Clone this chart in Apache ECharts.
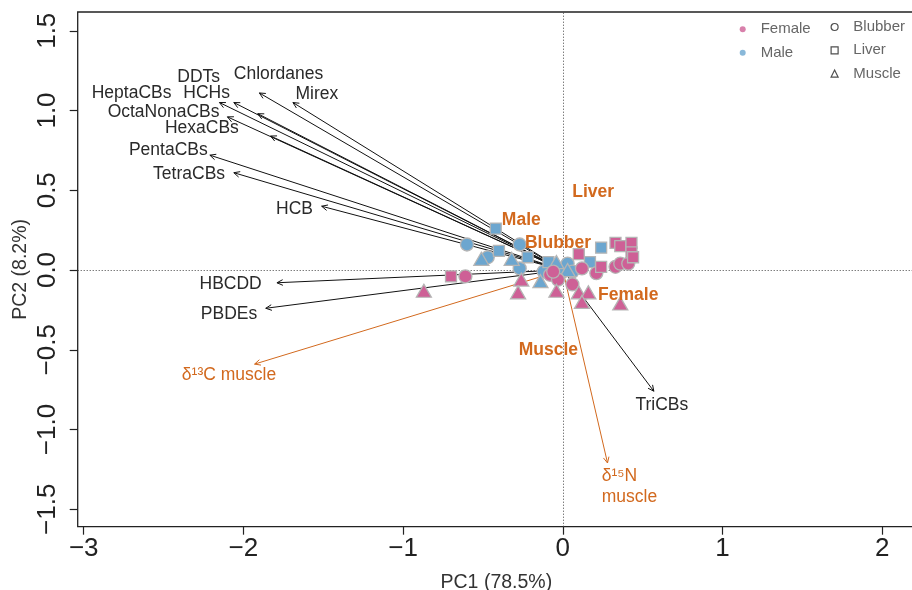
<!DOCTYPE html>
<html>
<head>
<meta charset="utf-8">
<script src="https://cdn.jsdelivr.net/npm/echarts@6/dist/echarts.min.js"></script>
<style>
  html, body { margin: 0; padding: 0; background: #fff; }
  #chart { width: 912px; height: 590px; }
</style>
</head>
<body>
<div id="chart"></div>
<script>
// sample scores [PC1, PC2]
const femaleBlubber = [[-0.61, -0.04], [-0.08, -0.03], [-0.03, -0.06], [0.06, -0.09], [0.12, 0.01],
  [0.21, -0.02], [0.33, 0.02], [0.36, 0.04], [0.41, 0.04], [-0.06, -0.01]];
const femaleLiver = [[-0.70, -0.04], [0.10, 0.10], [0.24, 0.02], [0.33, 0.17], [0.36, 0.15],
  [0.43, 0.17], [0.43, 0.11], [0.44, 0.08]];
const femaleMuscle = [[-0.87, -0.13], [-0.26, -0.06], [-0.28, -0.14], [-0.04, -0.13], [0.10, -0.14],
  [0.16, -0.14], [0.12, -0.20], [0.36, -0.21]];
const maleBlubber = [[-0.60, 0.16], [-0.27, 0.16], [-0.47, 0.08], [-0.27, 0.01], [-0.12, -0.01],
  [0.00, -0.01], [0.03, 0.04], [0.06, -0.01]];
const maleLiver = [[-0.42, 0.26], [-0.40, 0.12], [-0.22, 0.08], [-0.09, 0.05], [0.17, 0.05], [0.24, 0.14]];
const maleMuscle = [[-0.51, 0.07], [-0.32, 0.07], [-0.04, 0.05], [-0.14, -0.07], [0.03, 0.00]];

// variable loadings (arrow tips) and where their labels sit
const loadingNames = ['Chlordanes', 'Mirex', 'HCHs', 'DDTs', 'HeptaCBs', 'OctaNonaCBs', 'HexaCBs',
  'PentaCBs', 'TetraCBs', 'HCB', 'HBCDD', 'PBDEs', 'δ¹³C muscle', 'TriCBs', 'δ¹⁵N\nmuscle'];
const loadingPC1 = [-1.90, -1.69, -2.06, -2.15, -1.91, -2.10, -1.83, -2.21, -2.06, -1.51, -1.79, -1.86, -1.93, 0.57, 0.28];
const loadingPC2 = [1.11, 1.05, 1.05, 1.05, 0.98, 0.96, 0.84, 0.72, 0.61, 0.40, -0.08, -0.24, -0.59, -0.76, -1.21];
const labelPC1 = [-1.78, -1.54, -2.23, -2.28, -2.70, -2.50, -2.26, -2.47, -2.34, -1.68, -2.08, -2.09, -2.09, 0.62, 0.244];
const labelPC2 = [1.23, 1.10, 1.11, 1.21, 1.11, 0.99, 0.89, 0.75, 0.60, 0.38, -0.09, -0.28, -0.66, -0.85, -1.36];
const isotopeVars = ['δ¹³C muscle', 'δ¹⁵N\nmuscle'];

// group labels
const groupNames = ['Liver', 'Male', 'Blubber', 'Female', 'Muscle'];
const groupPC1 = [0.19, -0.26, -0.03, 0.41, -0.09];
const groupPC2 = [0.49, 0.31, 0.17, -0.16, -0.50];

const xTicks = [-3, -2, -1, 0, 1, 2];
const yTicks = [-1.5, -1, -0.5, 0, 0.5, 1, 1.5];

const PINK = '#CE6096';
const BLUE = '#6CA6CF';
const ORANGE = '#D2691E';
const INK = '#222';
const FONT = '"Liberation Sans", Arial, sans-serif';

const chart = echarts.init(document.getElementById('chart'), null, { renderer: 'canvas' });

const minus = s => s.replace('-', '\u2212');

function pointSeries(name, data, color, symbol, size) {
  return {
    name: name, type: 'scatter', data: data, symbol: symbol, symbolSize: size, z: 5,
    itemStyle: { color: color, borderColor: '#b5b5b5', borderWidth: 1.3, opacity: 1 },
    emphasis: { disabled: true }
  };
}

function arrowItem(params, api) {
  const i = api.value(4);
  const name = loadingNames[i];
  const color = isotopeVars.includes(name) ? ORANGE : '#111';
  const o = api.coord([0, 0]);
  const t = api.coord([api.value(0), api.value(1)]);
  const l = api.coord([api.value(2), api.value(3)]);
  const ang = Math.atan2(t[1] - o[1], t[0] - o[0]);
  const hl = 6.5, ha = Math.PI / 7;
  const p1 = [t[0] - hl * Math.cos(ang - ha), t[1] - hl * Math.sin(ang - ha)];
  const p2 = [t[0] - hl * Math.cos(ang + ha), t[1] - hl * Math.sin(ang + ha)];
  const multi = name.indexOf('\n') >= 0;
  return {
    type: 'group',
    children: [
      { type: 'line', shape: { x1: o[0], y1: o[1], x2: t[0], y2: t[1] }, style: { stroke: color, lineWidth: 1 } },
      { type: 'polyline', shape: { points: [p1, t, p2] }, style: { stroke: color, fill: null, lineWidth: 1 } },
      { type: 'text', x: l[0], y: l[1], style: {
          text: name, fill: color === ORANGE ? ORANGE : '#2a2a2a', fontSize: 17.5, fontFamily: FONT,
          align: multi ? 'left' : 'center', verticalAlign: 'middle', lineHeight: 20.6 } }
    ]
  };
}

const option = {
  animation: false,
  textStyle: { fontFamily: FONT },
  grid: {
    left: 77.7, top: 12, right: -3, bottom: 63.3, show: true, borderColor: INK, borderWidth: 1.3,
    outerBoundsMode: 'none', containLabel: false
  },
  xAxis: {
    type: 'value', min: -3.0376, max: 2.2054,
    name: 'PC1 (78.5%)', nameLocation: 'middle', nameGap: 46, nameMoveOverlap: false,
    nameTextStyle: { fontSize: 19.5, color: '#333' },
    axisLine: { show: false, onZero: false }, splitLine: { show: false },
    axisTick: { show: true, length: 8, customValues: xTicks, lineStyle: { color: INK, width: 1.2 } },
    axisLabel: { fontSize: 26, color: INK, margin: 9, customValues: xTicks, formatter: v => minus(String(v)) }
  },
  yAxis: {
    type: 'value', min: -1.6094, max: 1.6176,
    name: 'PC2 (8.2%)', nameLocation: 'middle', nameGap: 47, nameRotate: 90, nameMoveOverlap: false,
    nameTextStyle: { fontSize: 19.5, color: '#333' },
    axisLine: { show: false, onZero: false }, splitLine: { show: false },
    axisTick: { show: true, length: 8, customValues: yTicks, lineStyle: { color: INK, width: 1.2 } },
    axisLabel: { fontSize: 26, color: INK, margin: 17, rotate: 90, customValues: yTicks,
      formatter: v => minus(v.toFixed(1)) }
  },
  legend: [
    {
      left: 739.7, top: 21.3, orient: 'vertical', padding: 0, selectedMode: false,
      itemWidth: 6, itemHeight: 6, itemGap: 7.4,
      textStyle: { fontSize: 15, color: '#666', lineHeight: 16, padding: [0, 0, 0, 10] },
      data: [
        { name: 'Female', icon: 'circle', itemStyle: { color: PINK, borderWidth: 0 } },
        { name: 'Male', icon: 'circle', itemStyle: { color: BLUE, borderWidth: 0 } }
      ]
    },
    {
      left: 830.5, top: 19, orient: 'vertical', padding: 0, selectedMode: false,
      itemWidth: 7, itemHeight: 7, itemGap: 7.3,
      textStyle: { fontSize: 15, color: '#666', lineHeight: 16, padding: [0, 0, 0, 10.2] },
      data: [
        { name: 'Blubber', icon: 'circle', itemStyle: { color: '#fff', borderColor: INK, borderWidth: 1.2 } },
        { name: 'Liver', icon: 'rect', itemStyle: { color: '#fff', borderColor: INK, borderWidth: 1.2 } },
        { name: 'Muscle', icon: 'triangle', itemStyle: { color: '#fff', borderColor: INK, borderWidth: 1.2 } }
      ]
    }
  ],
  series: [
    {
      type: 'custom', name: 'loadings', z: 3, silent: true,
      data: loadingNames.map((n, i) => [loadingPC1[i], loadingPC2[i], labelPC1[i], labelPC2[i], i]),
      renderItem: arrowItem,
      markLine: {
        silent: true, symbol: 'none', label: { show: false },
        lineStyle: { color: '#444', width: 1, type: [1, 2] },
        data: [{ xAxis: 0 }, { yAxis: 0 }]
      }
    },
    pointSeries('Male Blubber', maleBlubber, BLUE, 'circle', 13),
    pointSeries('Male Liver', maleLiver, BLUE, 'rect', 11),
    pointSeries('Male Muscle', maleMuscle, BLUE, 'triangle', [15, 13]),
    pointSeries('Female Blubber', femaleBlubber, PINK, 'circle', 13),
    pointSeries('Female Liver', femaleLiver, PINK, 'rect', 11),
    pointSeries('Female Muscle', femaleMuscle, PINK, 'triangle', [15, 13]),
    {
      type: 'custom', name: 'groups', z: 8, silent: true,
      data: groupNames.map((n, i) => [groupPC1[i], groupPC2[i], i]),
      renderItem: (params, api) => {
        const p = api.coord([api.value(0), api.value(1)]);
        return { type: 'text', x: p[0], y: p[1], style: {
          text: groupNames[api.value(2)], fill: ORANGE, fontSize: 17.5, fontWeight: 'bold',
          fontFamily: FONT, align: 'center', verticalAlign: 'middle' } };
      }
    },
    // legend-only entries
    { type: 'scatter', name: 'Female', data: [], itemStyle: { color: PINK } },
    { type: 'scatter', name: 'Male', data: [], itemStyle: { color: BLUE } },
    { type: 'scatter', name: 'Blubber', data: [] },
    { type: 'scatter', name: 'Liver', data: [] },
    { type: 'scatter', name: 'Muscle', data: [] }
  ]
};

chart.setOption(option);
</script>
</body>
</html>
